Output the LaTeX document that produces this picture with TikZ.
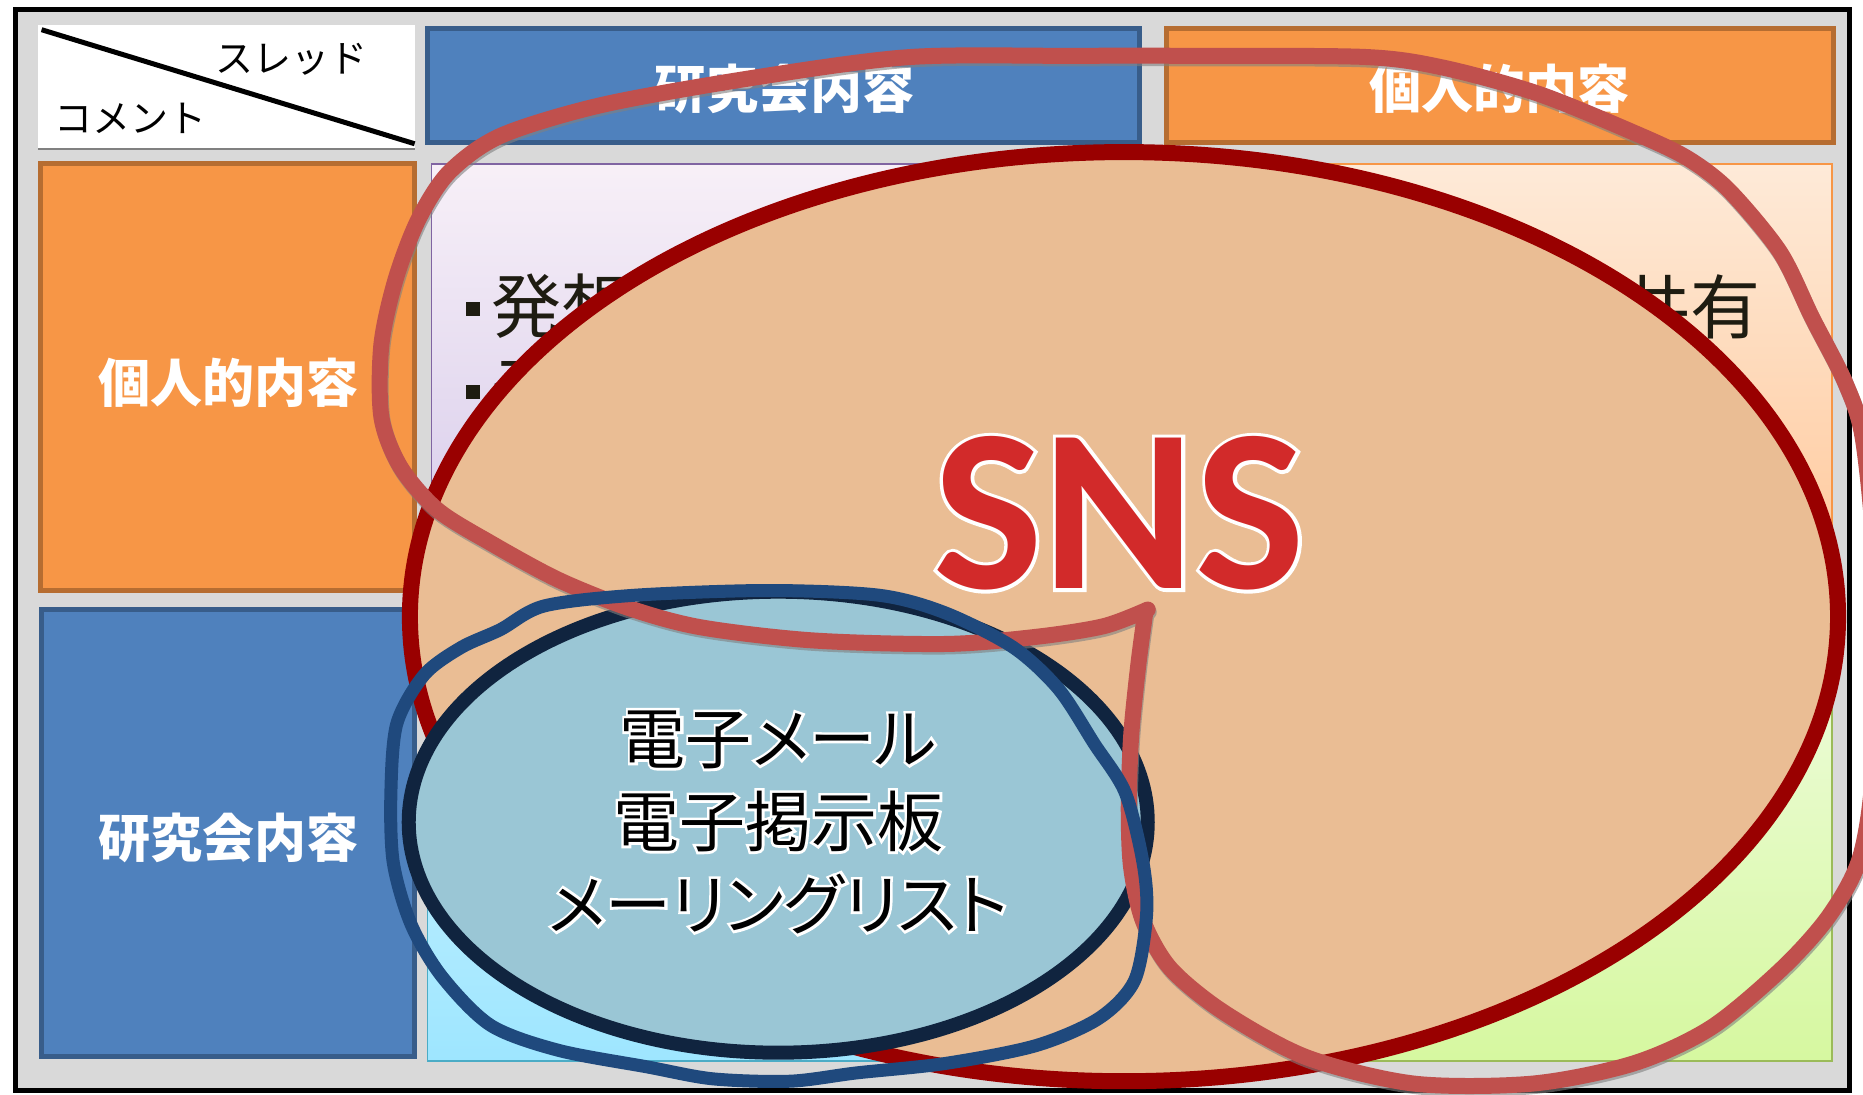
\documentclass[tikz,border=0pt]{standalone}
\usepackage{fontspec}
\setmainfont{Noto Sans CJK JP}
\newfontfamily\jp{Noto Sans CJK JP}
\newfontfamily\jpp{Noto Sans CJK JP}[RawFeature=+palt]
\newfontfamily\jppw{Noto Sans CJK JP}[RawFeature=+palt,FakeBold=8]
\newfontfamily\snsf{Carlito}[BoldFont={Carlito Bold}]
\newfontfamily\snsw{Carlito Bold}[FakeBold=3]
\usetikzlibrary{calc}
\definecolor{framegray}{HTML}{D9D9D9}
\definecolor{hblue}{HTML}{4F81BD}
\definecolor{hblueb}{HTML}{385D8A}
\definecolor{horange}{HTML}{F79646}
\definecolor{horangeb}{HTML}{B66D31}
\definecolor{snsfill}{HTML}{EABD94}
\definecolor{snsedge}{HTML}{990000}
\definecolor{bfill}{HTML}{9AC6D5}
\definecolor{bedge}{HTML}{10243F}
\definecolor{penred}{HTML}{C0504D}
\definecolor{penblue}{HTML}{1F497D}
\definecolor{snsred}{HTML}{D22A2A}
\definecolor{txtdark}{HTML}{1E1C11}
\begin{document}
\begin{tikzpicture}[x=1.188pt,y=-1.188pt,
 hdrtext/.style={text=white,inner sep=0pt,font=\jp\bfseries\fontsize{52pt}{60pt}\selectfont},
 celltext/.style={text=txtdark,inner sep=0pt,font=\jp\fontsize{70pt}{80pt}\selectfont},
 cornertext/.style={text=black,inner sep=0pt,font=\jp\fontsize{38pt}{44pt}\selectfont},
 elltext/.style={inner sep=0pt,align=center,font=\jpp\fontsize{66pt}{83pt}\selectfont},
 ellglow/.style={inner sep=0pt,align=center,text=white,font=\jppw\fontsize{66pt}{83pt}\selectfont},
 snstext/.style={inner sep=0pt,font=\snsf\bfseries\fontsize{232pt}{232pt}\selectfont},
 snsglow/.style={inner sep=0pt,text=white,font=\snsw\fontsize{232pt}{232pt}\selectfont},
 redpen/.style={draw=penred,line width=16pt,line cap=round,line join=round},
 bluepen/.style={draw=penblue,line width=13pt,line cap=round,line join=round},
 hdrblue/.style={fill=hblue,draw=hblueb,line width=5pt},
 hdrorange/.style={fill=horange,draw=horangeb,line width=5pt},
]
\useasboundingbox (0,0) rectangle (1568,921);
\fill[white] (0,0) rectangle (1568,921);
\begin{scope}
\clip (0,0) rectangle (1568,921);
\filldraw[fill=framegray,draw=black,line width=5pt] (13,8) rectangle (1557,918);
% corner cell
\fill[white] (32,21) rectangle (349,125);
\draw[gray,line width=2pt] (32,125.5) -- (349,125.5);
\coordinate (d1) at (35,25);
\coordinate (d2) at (349,121);
\draw[line width=5pt] (d1) -- (d2);
\node[cornertext] (thr) at (245,50) {スレッド};
\node[cornertext] (cmt) at (110,100) {コメント};
% column headers
\draw[hdrblue] (360,24) rectangle (959,120);
\node[hdrtext] (h1) at (660,75) {研究会内容};
\draw[hdrorange] (982,24) rectangle (1543,120);
\node[hdrtext] (h2) at (1262,75) {個人的内容};
% row headers
\draw[hdrorange] (34,138) rectangle (349,497);
\node[hdrtext] (r1) at (192,322) {個人的内容};
\draw[hdrblue] (35,513) rectangle (349,889);
\node[hdrtext] (r2) at (192,705) {研究会内容};
% content cells
\shadedraw[top color=violet!6,bottom color={rgb,255:red,213;green,201;blue,234},draw={rgb,255:red,128;green,100;blue,162},line width=1.5pt] (363,138) rectangle (960,498);
\shadedraw[top color={rgb,255:red,254;green,234;blue,216},bottom color={rgb,255:red,255;green,200;blue,154},draw=horange,line width=1.5pt] (981,138) rectangle (1542,498);
\shadedraw[top color={rgb,255:red,214;green,245;blue,255},bottom color={rgb,255:red,158;green,230;blue,255},draw={rgb,255:red,75;green,172;blue,198},line width=1.5pt] (360,512) rectangle (960,893);
\shadedraw[top color={rgb,255:red,240;green,252;blue,225},bottom color={rgb,255:red,214;green,248;blue,160},draw={rgb,255:red,155;green,187;blue,89},line width=1.5pt] (981,512) rectangle (1542,893);
\node[celltext,anchor=west] (t1) at (392,258) {\raisebox{17pt}{\rule{14pt}{14pt}}\hspace{12pt}発想};
\node[celltext,anchor=west] (t2) at (392,328) {\raisebox{17pt}{\rule{14pt}{14pt}}\hspace{12pt}予定};
\node[celltext,anchor=east] (t3) at (1482,258) {共有};
% SNS ellipse
\coordinate (snsc) at (946,519);
\filldraw[fill=snsfill,draw=snsedge,line width=16pt] (snsc) ellipse [x radius=601, y radius=391];
% SNS label
\coordinate (snsp) at (942,432);
\node[snsglow] (snsw) at (snsp) {SNS};
\node[snstext,text=snsred] (sns) at (snsp) {SNS};
% blue ellipse
\coordinate (mailc) at (655,692);
\filldraw[fill=bfill,draw=bedge,line width=14pt] (mailc) ellipse [x radius=311, y radius=194];
\node[ellglow] (mailw) at (mailc) {電子メール\\電子掲示板\\メーリングリスト};
\node[elltext,text=black] (mail) at (mailc) {電子メール\\電子掲示板\\メーリングリスト};
% red freehand loop
\def\redloop{(964,515) (958,560) (952,620) (950,680) (952,730) (962,775) (985,815) (1030,852) (1100,890) (1190,912) (1290,912) (1375,895) (1440,865) (1500,815) (1540,770) (1566,720) (1577,640) (1578,480) (1568,370) (1553,322) (1525,267) (1498,212) (1455,160) (1420,133) (1376,112) (1295,79) (1215,57) (1150,48) (1010,47) (900,47) (766,48) (637,65) (508,88) (422,114) (378,145) (352,185) (333,235) (321,290) (321,351) (337,393) (368,429) (413,457) (470,488) (530,512) (590,528) (684,539) (796,542) (872,536) (929,527) (966,513)}
\draw[draw=gray,opacity=0.6,line width=16pt,line cap=round,line join=round,shift={(1pt,-2.5pt)}] plot[smooth,tension=0.5] coordinates {\redloop};
\draw[redpen] plot[smooth,tension=0.5] coordinates {\redloop};
% blue freehand loop
\draw[bluepen] plot[smooth cycle,tension=0.5] coordinates {(421,530) (458,510) (534,501) (646,497) (740,501) (796,516) (853,545) (891,580) (921,626) (947,667) (962,726) (965,770) (955,825) (925,857) (872,880) (796,895) (721,903) (665,910) (600,908) (545,898) (470,884) (413,863) (372,822) (346,778) (331,726) (329,667) (334,609) (357,568) (388,545)};
\end{scope}
\end{tikzpicture}
\end{document}
